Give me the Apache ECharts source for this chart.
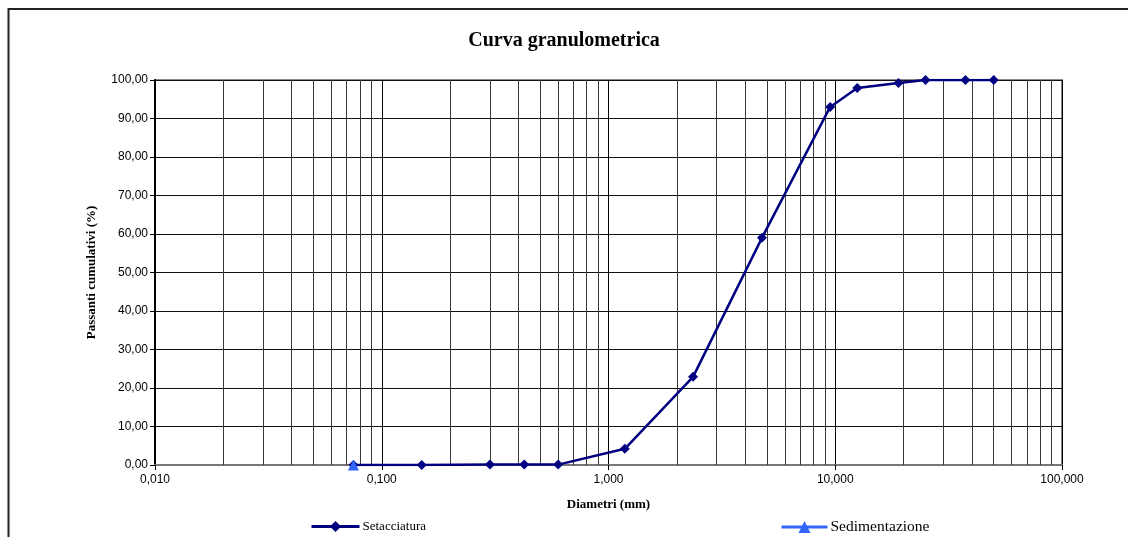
<!DOCTYPE html>
<html>
<head>
<meta charset="utf-8">
<script src="https://cdn.jsdelivr.net/npm/echarts@6/dist/echarts.min.js"></script>
<style>html,body{margin:0;padding:0;background:#fff}#c{width:1128px;height:537px}</style>
</head>
<body>
<div id="c"></div>
<script>
var titleText = 'Curva granulometrica';
var xName = 'Diametri (mm)';
var yName = 'Passanti cumulativi (%)';
var sieveDiam = [0.075, 0.15, 0.3, 0.425, 0.6, 1.18, 2.36, 4.75, 9.5, 12.5, 19, 25, 37.5, 50];
var sievePass = [0.00, 0.00, 0.10, 0.10, 0.10, 4.20, 22.90, 59.00, 93.00, 97.90, 99.20, 100.00, 100.00, 100.00];
var sedDiam = [0.075];
var sedPass = [0.00];
var minorGrid = [0.02,0.03,0.04,0.05,0.06,0.07,0.08,0.09,
                 0.2,0.3,0.4,0.5,0.6,0.7,0.8,0.9,
                 2,3,4,5,6,7,8,9,
                 20,30,40,50,60,70,80,90];

function pairs(xs, ys){ return xs.map(function(x,i){ return [x, ys[i]]; }); }

var chart = echarts.init(document.getElementById('c'), null, {renderer:'canvas'});
chart.setOption({
  animation: false,
  backgroundColor: '#fff',
  graphic: [{
    type: 'rect', shape: {x: 8.5, y: 9, width: 1300, height: 700},
    style: {fill: 'none', stroke: '#222', lineWidth: 2}, silent: true, z: -10
  }],
  title: {
    text: titleText, left: 'center', top: 26,
    textStyle: {fontFamily: 'Liberation Serif', fontWeight: 'bold', fontSize: 20, color: '#000'}
  },
  grid: {left: 155, right: 66, top: 80, bottom: 72, show: true, borderColor: '#8a8a8a', borderWidth: 2},
  legend: [{
    data: ['Setacciatura'], left: 310, top: 520, padding: 0, itemWidth: 48, itemHeight: 14,
    lineStyle: {width: 3},
    textStyle: {fontFamily: 'Liberation Serif', fontSize: 13, color: '#000', padding: [0,0,0,-2]}
  },{
    data: ['Sedimentazione'], left: 780, top: 519, padding: 0, itemWidth: 46, itemHeight: 15,
    lineStyle: {width: 3},
    textStyle: {fontFamily: 'Liberation Serif', fontSize: 15.5, color: '#000', padding: [0,0,0,-2]}
  }],
  xAxis: {
    type: 'log', logBase: 10, min: 0.01, max: 100,
    name: xName, nameLocation: 'middle', nameGap: 33,
    nameTextStyle: {fontFamily: 'Liberation Serif', fontWeight: 'bold', fontSize: 13, color: '#000'},
    axisLine: {show: true, lineStyle: {color: '#777', width: 2}},
    axisTick: {show: true, length: 5, lineStyle: {color: '#000'}},
    axisLabel: {
      margin: 9, fontFamily: 'Liberation Sans', fontSize: 12, color: '#000',
      formatter: function(v){ return Number(v).toFixed(3).replace('.', ','); }
    },
    splitLine: {show: true, lineStyle: {color: '#000', width: 1}},
    minorTick: {show: false}, minorSplitLine: {show: false}
  },
  yAxis: {
    type: 'value', min: 0, max: 100, interval: 10,
    name: yName, nameLocation: 'middle', nameGap: 57, nameRotate: 90,
    nameTextStyle: {fontFamily: 'Liberation Serif', fontWeight: 'bold', fontSize: 13, color: '#000'},
    axisLine: {show: true, lineStyle: {color: '#000', width: 2}},
    axisTick: {show: true, length: 5, lineStyle: {color: '#000'}},
    axisLabel: {
      margin: 7, fontFamily: 'Liberation Sans', fontSize: 12, color: '#000',
      formatter: function(v){ return Number(v).toFixed(2).replace('.', ','); }
    },
    splitLine: {show: true, lineStyle: {color: '#111', width: 1}}
  },
  series: [{
    name: 'gridMinor', type: 'line', data: [], silent: true, z: 1,
    markLine: {
      silent: true, symbol: ['none','none'], label: {show: false},
      lineStyle: {color: '#3a3a3a', width: 1, type: 'solid'},
      emphasis: {disabled: true},
      data: minorGrid.map(function(v){ return {xAxis: v}; })
    }
  },{
    name: 'Setacciatura', type: 'line', data: pairs(sieveDiam, sievePass), z: 5,
    symbol: 'diamond', symbolSize: 10,
    itemStyle: {color: '#000080'}, lineStyle: {color: '#000080', width: 2.5}
  },{
    name: 'Sedimentazione', type: 'line', data: pairs(sedDiam, sedPass), z: 6,
    symbol: 'triangle', symbolSize: 11,
    itemStyle: {color: '#3366ff'}, lineStyle: {color: '#3366ff', width: 2.5}
  }]
});
</script>
</body>
</html>
